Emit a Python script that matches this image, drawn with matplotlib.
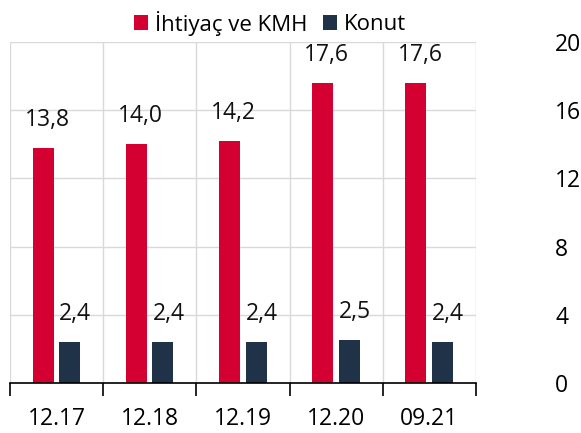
import numpy as np
import matplotlib.pyplot as plt

plt.rcParams['font.family'] = ['Open Sans', 'DejaVu Sans']

# veriler
donemler = ['12.17', '12.18', '12.19', '12.20', '09.21']
ihtiyac = [13.8, 14.0, 14.2, 17.6, 17.6]
konut = [2.4, 2.4, 2.4, 2.5, 2.4]
y_ticks = [0, 4, 8, 12, 16, 20]

kirmizi = '#D50032'
lacivert = '#1F3247'

x = np.arange(len(donemler))
w = 0.225

fig = plt.figure(figsize=(5.81, 4.33), dpi=100)
ax = fig.add_axes([0.0172, 0.1155, 0.8021, 0.7875])

ax.bar(x - 0.145, ihtiyac, w, color=kirmizi, label='İhtiyaç ve KMH', zorder=3)
ax.bar(x + 0.14, konut, w, color=lacivert, label='Konut', zorder=3)

for xi, v in zip(x, ihtiyac):
    ax.text(xi - 0.10, v + 0.95, f'{v:.1f}'.replace('.', ','), ha='center',
            va='bottom', fontsize=16.5, color='#111111')
for xi, v in zip(x, konut):
    ax.text(xi + 0.20, v + 0.95, f'{v:.1f}'.replace('.', ','), ha='center',
            va='bottom', fontsize=16.5, color='#111111')

ax.set_xlim(-0.5, len(donemler) - 0.5)
ax.set_ylim(0, 20)

# x ekseni: sinirlarda tik, merkezlerde etiket
ax.set_xticks(np.arange(len(donemler) + 1) - 0.5)
ax.set_xticklabels([])
ax.set_xticks(x, minor=True)
ax.set_xticklabels(donemler, minor=True, fontsize=16.5)
ax.tick_params(axis='x', which='major', length=9, width=1.2, color='black', direction='out')
ax.tick_params(axis='x', which='minor', length=0, pad=17)

# y ekseni sagda
ax.yaxis.tick_right()
ax.set_yticks(y_ticks)
ax.tick_params(axis='y', length=0, pad=57, labelsize=16.5)
for lab in ax.get_yticklabels():
    lab.set_horizontalalignment('left')

ax.grid(True, which='major', color='#D9D9D9', linewidth=1, zorder=0)
ax.set_axisbelow(True)
for s in ['top', 'left', 'right']:
    ax.spines[s].set_visible(False)
ax.spines['bottom'].set_linewidth(1.2)
ax.spines['bottom'].set_zorder(4)

fig.legend(loc='center', bbox_to_anchor=(270 / 581, 1 - 23 / 433), ncol=2, frameon=False,
           fontsize=16, handlelength=0.65, handleheight=0.65, handletextpad=0.3,
           columnspacing=0.7, borderaxespad=0)

fig.savefig('out.png', dpi=100)
